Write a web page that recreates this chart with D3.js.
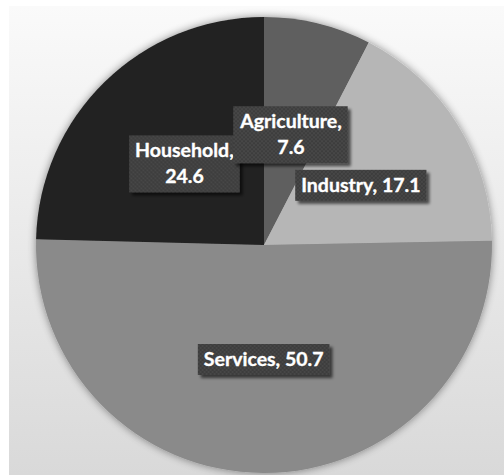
<!DOCTYPE html>
<html>
<head>
<meta charset="utf-8">
<script src="https://cdn.jsdelivr.net/npm/d3@7"></script>
<style>
  html, body { margin: 0; padding: 0; background: #ffffff; }
  svg { display: block; }
</style>
</head>
<body>
<svg id="chart" width="504" height="475"></svg>
<script>
// ---- data ----
const categories = ["Agriculture", "Industry", "Services", "Household"];
const values = [7.6, 17.1, 50.7, 24.6];
const colors = ["#5f5f5f", "#b6b6b6", "#8a8a8a", "#212121"];
// label draw order (Household first so Agriculture box sits on top)
const labelOrder = ["Household", "Services", "Industry", "Agriculture"];

const W = 504, H = 475;
const cx = 264, cy = 245, R = 228;

const svg = d3.select("#chart");
const defs = svg.append("defs");

// background gradient
const bg = defs.append("linearGradient").attr("id", "bgGrad")
  .attr("x1", 0).attr("y1", 0).attr("x2", 0).attr("y2", 1);
bg.append("stop").attr("offset", "0%").attr("stop-color", "#fafafa");
bg.append("stop").attr("offset", "100%").attr("stop-color", "#d9d9d9");

// pie shadow
const sh = defs.append("filter").attr("id", "pieShadow")
  .attr("x", "-10%").attr("y", "-10%").attr("width", "120%").attr("height", "120%");
sh.append("feGaussianBlur").attr("in", "SourceAlpha").attr("stdDeviation", 4).attr("result", "b");
sh.append("feOffset").attr("in", "b").attr("dx", 0).attr("dy", 0).attr("result", "o");
sh.append("feComponentTransfer").attr("in", "o").attr("result", "o2")
  .append("feFuncA").attr("type", "linear").attr("slope", 0.45);
const shm = sh.append("feMerge");
shm.append("feMergeNode").attr("in", "o2");
shm.append("feMergeNode").attr("in", "SourceGraphic");

// label shadow
const ls = defs.append("filter").attr("id", "lblShadow")
  .attr("x", "-20%").attr("y", "-30%").attr("width", "150%").attr("height", "170%");
ls.append("feGaussianBlur").attr("in", "SourceAlpha").attr("stdDeviation", 1.8).attr("result", "b");
ls.append("feOffset").attr("in", "b").attr("dx", 3).attr("dy", 3).attr("result", "o");
ls.append("feComponentTransfer").attr("in", "o").attr("result", "o2")
  .append("feFuncA").attr("type", "linear").attr("slope", 0.6);
const lsm = ls.append("feMerge");
lsm.append("feMergeNode").attr("in", "o2");
lsm.append("feMergeNode").attr("in", "SourceGraphic");

// checker pattern for label boxes
const pat = defs.append("pattern").attr("id", "checker")
  .attr("width", 4).attr("height", 4).attr("patternUnits", "userSpaceOnUse");
pat.append("rect").attr("width", 4).attr("height", 4).attr("fill", "#3c3c3c");
pat.append("rect").attr("width", 2).attr("height", 2).attr("fill", "#474747");
pat.append("rect").attr("x", 2).attr("y", 2).attr("width", 2).attr("height", 2).attr("fill", "#474747");

// background panel
svg.append("rect").attr("x", 9).attr("y", 6).attr("width", W - 9).attr("height", H - 6)
  .attr("fill", "url(#bgGrad)");

const data = categories.map((c, i) => ({ name: c, value: values[i], color: colors[i] }));

const pie = d3.pie().value(d => d.value).sort(null);
const arcs = pie(data);
const arc = d3.arc().innerRadius(0).outerRadius(R);

const g = svg.append("g").attr("transform", `translate(${cx},${cy})`);

g.append("g").attr("filter", "url(#pieShadow)")
  .selectAll("path").data(arcs).join("path")
  .attr("d", arc)
  .attr("fill", d => d.data.color)
  .attr("stroke", "none");

// labels
const fontSize = 19.5;
const lineH = 26;
const lines = d => {
  if (d.data.name === "Agriculture" || d.data.name === "Household")
    return [`${d.data.name},`, `${d.data.value}`];
  return [`${d.data.name}, ${d.data.value}`];
};

const lg = g.append("g");
const ordered = labelOrder.map(n => arcs.find(a => a.data.name === n));
ordered.forEach(d => {
  const [lx, ly] = arc.centroid(d);
  const ls_ = lines(d);
  const grp = lg.append("g").attr("transform", `translate(${lx},${ly})`);
  const rect = grp.append("rect").attr("fill", "url(#checker)").attr("filter", "url(#lblShadow)");
  const txt = grp.append("text")
    .attr("text-anchor", "middle")
    .attr("font-family", "Lato, 'Open Sans', sans-serif")
    .attr("font-weight", "bold")
    .attr("font-size", fontSize)
    .attr("fill", "#ffffff")
    .attr("stroke", "#ffffff")
    .attr("stroke-width", 0.35);
  const n = ls_.length;
  ls_.forEach((s, i) => {
    txt.append("tspan").attr("x", 0)
      .attr("y", (i - (n - 1) / 2) * lineH)
      .attr("dy", "0.35em")
      .text(s);
  });
  const bb = txt.node().getBBox();
  const padX = 6, padY = 3;
  rect.attr("x", bb.x - padX).attr("y", -(n * lineH) / 2 - padY + 1)
    .attr("width", bb.width + 2 * padX)
    .attr("height", n * lineH + 2 * padY - 1);
});
</script>
</body>
</html>
